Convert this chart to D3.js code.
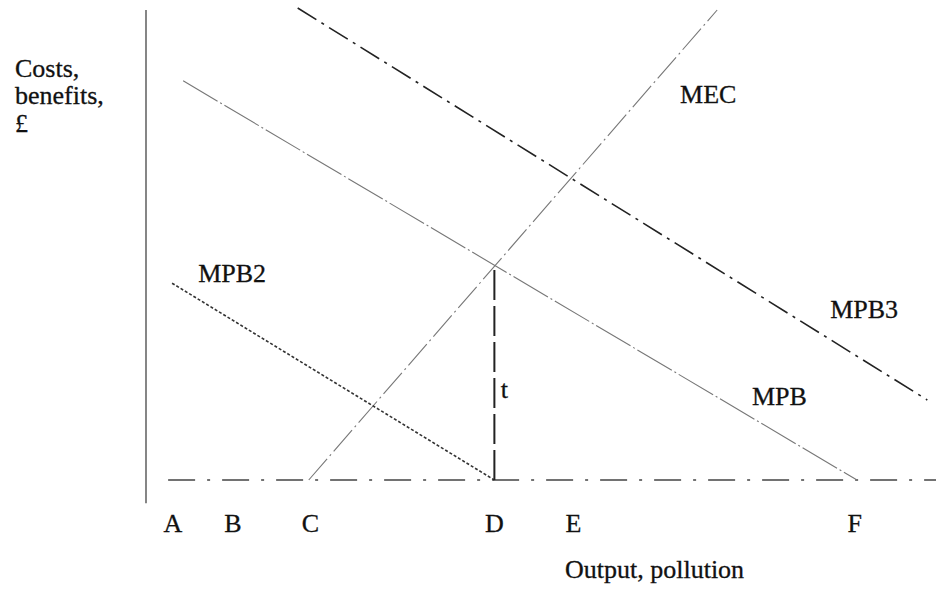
<!DOCTYPE html>
<html>
<head>
<meta charset="utf-8">
<script src="https://d3js.org/d3.v7.min.js"></script>
<style>
  body { margin: 0; background: #fff; }
  text { font-family: "Liberation Serif", "DejaVu Serif", serif; fill: #111; stroke: #111; stroke-width: 0.3; }
</style>
</head>
<body>
<div id="my_dataviz"></div>
<script>
// size of the page
var width = 936, height = 592;

// quantity marks on the horizontal axis
var tickNames = ["A", "B", "C", "D", "E", "F"];
var tickValues = [3.4, 11.0, 20.8, 44.1, 54.1, 89.7];

// curves, as [quantity, cost] end points
var mpb  = [[4.7, 49.9], [90.0, 0]];
var mec  = [[20.6, 0], [72.3, 58.75]];
var mpb2 = [[3.3, 24.6], [44.1, 0]];
var mpb3 = [[19.2, 59], [98.9, 10]];
var taxLine = [[44.1, 0], [44.1, 26.9]];
var baseLine = [[2.8, 0], [100, 0]];

// curve labels
var curveLabels = ["MEC", "MPB3", "MPB", "MPB2", "t"];
var curveLabelPos = [[67.6, 47.1], [86.6, 20.3], [76.7, 9.4], [6.6, 24.8], [44.9, 10.3]];

var svg = d3.select("#my_dataviz")
  .append("svg")
    .attr("width", width)
    .attr("height", height);

// scales
var x = d3.scaleLinear().domain([0, 100]).range([146, 936]);
var y = d3.scaleLinear().domain([0, 60]).range([480, 0]);

var line = d3.line()
  .x(function(d) { return x(d[0]); })
  .y(function(d) { return y(d[1]); });

// vertical axis
svg.append("line")
  .attr("x1", x(0)).attr("x2", x(0))
  .attr("y1", y(58.75)).attr("y2", y(-2.9))
  .style("stroke", "#444").style("stroke-width", 1.3);

// horizontal axis drawn as a dash-dot line
svg.append("path")
  .attr("d", line(baseLine))
  .style("fill", "none").style("stroke", "#444")
  .style("stroke-width", 1.5).style("stroke-dasharray", "27,12,3,12");

// the curves
svg.append("path").attr("d", line(mpb))
  .style("fill", "none").style("stroke", "#777")
  .style("stroke-width", 1.1).style("stroke-dasharray", "40,3,2,3");
svg.append("path").attr("d", line(mec))
  .style("fill", "none").style("stroke", "#777")
  .style("stroke-width", 1.1).style("stroke-dasharray", "28,4,2,4");
svg.append("path").attr("d", line(mpb2))
  .style("fill", "none").style("stroke", "#333")
  .style("stroke-width", 1.6).style("stroke-dasharray", "3,2");
svg.append("path").attr("d", line(mpb3))
  .style("fill", "none").style("stroke", "#222")
  .style("stroke-width", 1.6).style("stroke-dasharray", "22,6,3,6");

// tax wedge
svg.append("path").attr("d", line(taxLine))
  .style("fill", "none").style("stroke", "#222")
  .style("stroke-width", 2).style("stroke-dasharray", "30,6");

// tick letters
svg.selectAll("tickLetters")
  .data(tickNames)
  .enter()
  .append("text")
    .attr("x", function(d, i) { return x(tickValues[i]); })
    .attr("y", 532)
    .attr("text-anchor", "middle")
    .style("font-size", "26px")
    .text(function(d) { return d; });

// curve labels
svg.selectAll("curveLabels")
  .data(curveLabels)
  .enter()
  .append("text")
    .attr("x", function(d, i) { return x(curveLabelPos[i][0]); })
    .attr("y", function(d, i) { return y(curveLabelPos[i][1]); })
    .style("font-size", "26px")
    .text(function(d) { return d; });

// axis titles
svg.append("text")
  .attr("x", 565).attr("y", 578)
  .style("font-size", "26px")
  .text("Output, pollution");

var yTitle = svg.append("text")
  .attr("x", 15).attr("y", 77)
  .style("font-size", "26px");
yTitle.append("tspan").attr("x", 15).attr("dy", 0).text("Costs,");
yTitle.append("tspan").attr("x", 15).attr("dy", 27).text("benefits,");
yTitle.append("tspan").attr("x", 15).attr("dy", 28).text("£");
</script>
</body>
</html>
